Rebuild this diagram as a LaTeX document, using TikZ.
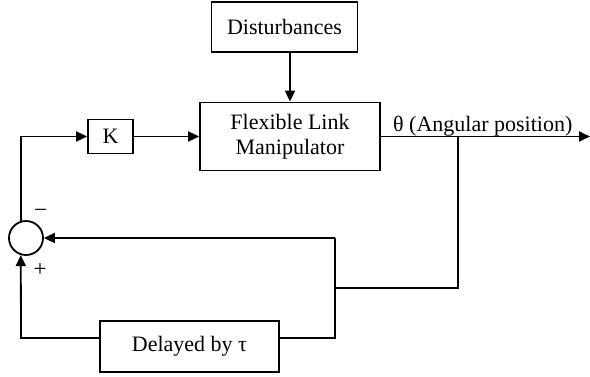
\documentclass[tikz,border=0pt]{standalone}
\usepackage{fontspec}
\setmainfont{Liberation Serif}
\usetikzlibrary{arrows.meta}
\begin{document}
\begin{tikzpicture}[x=1pt,y=-1pt,
  every node/.style={font=\fontsize{22}{25}\selectfont},
  block/.style={draw,line width=1.8pt,inner sep=0pt,align=center},
  conn/.style={line width=1.8pt},
  arr/.style={conn,-{Triangle[length=11pt,width=10pt]}},
  sign/.style={font=\fontsize{23}{25}\selectfont,inner sep=0pt}]
  \useasboundingbox (0,0) rectangle (590,376);

  % blocks
  \node[block,minimum width=146pt,minimum height=50pt] (dist) at (284.5,27) {Disturbances};
  \node[block,minimum width=180pt,minimum height=68pt] (flm) at (290,136.5) {Flexible Link\\Manipulator};
  \node[block,minimum width=45pt,minimum height=34pt] (k) at (110.5,136.5) {K};
  \node[block,minimum width=179pt,minimum height=51pt] (delay) at (189.5,346.5) {Delayed by τ};
  \node[draw,circle,line width=1.8pt,minimum size=34pt,inner sep=0pt] (sum) at (26,238) {};

  % signs at the summing junction
  \node[sign] (minus) at (40.5,213) {−};
  \node[sign] (plus) at (40,270) {+};

  % routing points of the feedback path
  \coordinate (out) at (590,136.5);
  \coordinate (tap) at (458,136.5);
  \coordinate (r1) at (458,288);
  \coordinate (r2) at (335,288);
  \coordinate (r3) at (335,238);
  \coordinate (r4) at (335,338);
  \coordinate (bl) at (21,338);

  % forward path
  \draw[arr] (sum.107) |- (k.west);
  \draw[arr] (k.east) -- (flm.west);
  \draw[arr] (dist.south -| flm.north) -- (flm.north);
  \draw[arr] (flm.east) -- (out);
  \node[anchor=base west,inner sep=0pt] (theta) at (393,131) {θ (Angular position)};

  % feedback paths
  \draw[conn] (tap) -- (r1) -- (r2);
  \draw[conn] (r3) -- (r4) -- (delay.east |- r4);
  \draw[arr] (r3) -- (sum.east);
  \draw[arr] (delay.west |- bl) -- (bl) -- (sum.253);
\end{tikzpicture}
\end{document}
